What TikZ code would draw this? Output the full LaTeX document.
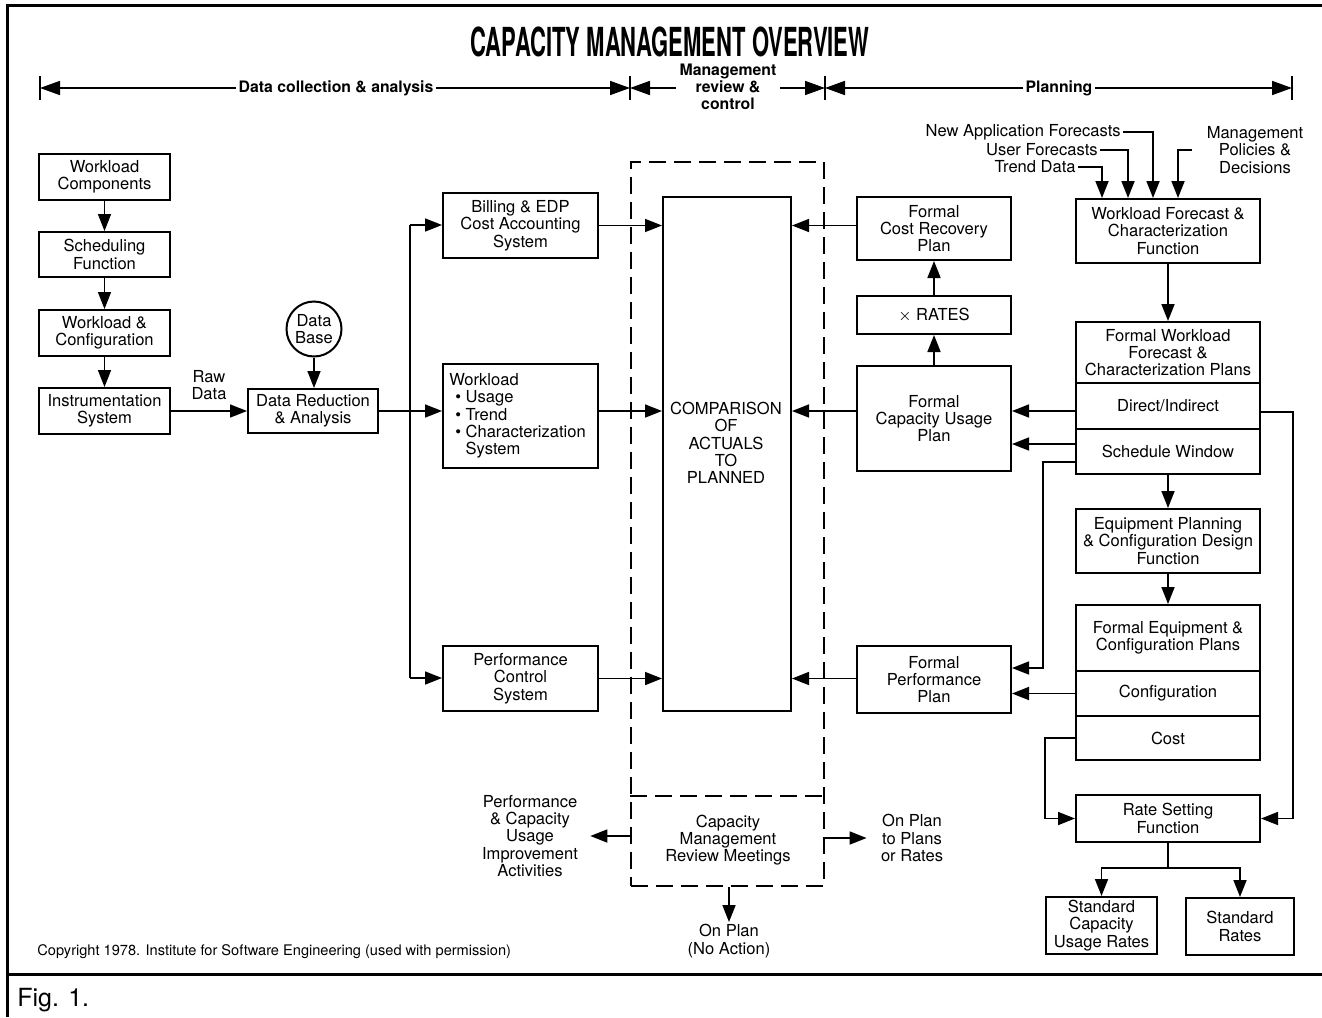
\documentclass[tikz,border=0pt]{standalone}
\usepackage{fontspec}
\usepackage{graphicx}
\setmainfont{TeX Gyre Heros}
\usetikzlibrary{arrows.meta}
\begin{document}
\begin{tikzpicture}[x=0.5pt,y=-0.5pt,
  txt/.style={font=\fontsize{8.27}{8.65}\selectfont, align=center, inner sep=1pt},
  bx/.style={txt, draw, line width=1pt, inner sep=0pt},
  sz/.style 2 args={minimum width=#1*0.5pt, minimum height=#2*0.5pt},
  arr/.style={line width=0.85pt, -{Triangle[length=8.5pt,width=6.5pt]}},
  ln/.style={line width=0.85pt},
  hdr/.style={font=\bfseries\fontsize{7.9}{8.6}\selectfont, align=center, inner sep=1pt},
  harr/.style={line width=0.85pt, -{Triangle[length=10pt,width=7pt]}},
  dsh/.style={line width=1pt, dash pattern=on 8.5pt off 4pt},
]
\useasboundingbox (0,0) rectangle (1322,1017);
% frame
\draw[line width=1.5pt] (7,1017) -- (7,5) -- (1322,5);
\draw[line width=1.5pt] (7,974) -- (1322,974);

% title
\node[inner sep=0] (title) at (670,42) {\scalebox{0.55}[1]{\fontsize{20}{20}\selectfont\bfseries CAPACITY MANAGEMENT OVERVIEW}};

% header
\coordinate (t1) at (40,88);
\coordinate (t2) at (630,88);
\coordinate (t3) at (825,88);
\coordinate (t4) at (1292,88);
\node[hdr] (dca) at (336,88) {Data collection \& analysis};
\node[hdr] (mrc) at (728,87) {Management\\review \&\\control};
\node[hdr] (pln) at (1059,88) {Planning};
\coordinate (mrcl) at (676,88);
\coordinate (mrcr) at (780,88);
\draw[harr] (dca.west) -- (t1);
\draw[harr] (dca.east) -- (t2);
\draw[harr] (mrcl) -- (t2);
\draw[harr] (mrcr) -- (t3);
\draw[harr] (pln.west) -- (t3);
\draw[harr] (pln.east) -- (t4);
\foreach \t in {t1,t2,t3,t4} \draw[ln] ([yshift=-6pt]\t) -- ([yshift=6pt]\t);

% left column
\node[bx, sz={131}{46}] (wc) at (104.5,177) {Workload\\Components};
\node[bx, sz={131}{45}] (sf) at (104.5,254.5) {Scheduling\\Function};
\node[bx, sz={131}{46}] (wcf) at (104.5,333) {Workload \&\\Configuration};
\node[bx, sz={131}{46}] (inst) at (104.5,411) {Instrumentation\\System};
\node[bx, sz={130}{44}] (dra) at (313,411) {Data Reduction\\\& Analysis};
\node[bx, circle, minimum size=27.5pt] (db) at (314,329) {Data\\Base};
\node[txt] (raw) at (209,385) {Raw\\Data};

\node[bx, sz={155}{65}] (bill) at (520.5,225.5) {Billing \& EDP\\Cost Accounting\\System};
\node[bx, sz={155}{104}, align=left] (wus) at (520.5,416) {\hspace*{-3pt}Workload\\\textbullet\ Usage\\\textbullet\ Trend\\\textbullet\ Characterization\\\phantom{\textbullet\ }System};
\node[bx, sz={155}{65}] (pcs) at (520.5,678.5) {Performance\\Control\\System};

% management review
\node[bx, sz={128}{514}] (cmp) at (727,454) {};
\node[txt] (cmpt) at (726,443) {COMPARISON\\OF\\ACTUALS\\TO\\PLANNED};
\node[draw, dsh, sz={193}{724}] (mgmt) at (727.5,523.5) {};
\draw[dsh] (mgmt.west |- 0,796) -- (mgmt.east |- 0,796);
\node[txt] (crm) at (728,840) {Capacity\\Management\\Review Meetings};
\node[txt] (pcu) at (530,836) {Performance\\\& Capacity\\Usage\\Improvement\\Activities};
\node[txt] (opr) at (912,838) {On Plan\\to Plans\\or Rates};
\node[txt] (onp) at (729,941) {On Plan\\(No Action)};

% middle right column
\node[bx, sz={154}{63}] (fcr) at (934,228.5) {Formal\\Cost Recovery\\Plan};
\node[bx, sz={154}{38}] (rates) at (934,315) {$\times$ RATES};
\node[bx, sz={154}{105}] (fcu) at (934,418.5) {Formal\\Capacity Usage\\Plan};
\node[bx, sz={154}{67}] (fpp) at (934,679.5) {Formal\\Performance\\Plan};

% right column
\node[bx, sz={184}{64}] (wfc) at (1168,231) {Workload Forecast \&\\Characterization\\Function};
\node[bx, sz={184}{61}] (fwp1) at (1168,352.5) {Formal Workload\\Forecast \&\\Characterization Plans};
\node[bx, sz={184}{46}] (fwp2) at (1168,406) {Direct/Indirect};
\node[bx, sz={184}{45}] (fwp3) at (1168,451.5) {Schedule Window};
\node[bx, sz={184}{64}] (epc) at (1168,541) {Equipment Planning\\\& Configuration Design\\Function};
\node[bx, sz={184}{66}] (fep1) at (1168,638) {Formal Equipment \&\\Configuration Plans};
\node[bx, sz={184}{45}] (fep2) at (1168,693.5) {Configuration};
\node[bx, sz={184}{44}] (fep3) at (1168,738) {Cost};
\node[bx, sz={184}{47}] (rsf) at (1168,818.5) {Rate Setting\\Function};
\node[bx, sz={111}{57}] (scur) at (1101.5,925.5) {Standard\\Capacity\\Usage Rates};
\node[bx, sz={108}{57}] (sr) at (1240,926.5) {Standard\\Rates};

% inputs
\node[txt, anchor=east] (naf) at (1123,132) {New Application Forecasts};
\node[txt, anchor=east] (uf) at (1100,150) {User Forecasts};
\node[txt, anchor=east] (td) at (1078,167) {Trend Data};
\node[txt] (mpd) at (1255,150) {Management\\Policies \&\\Decisions};
\draw[arr] (naf.east) -| ([xshift=-7.5pt]wfc.north);
\draw[arr] (uf.east) -| ([xshift=-20pt]wfc.north);
\draw[arr] (td.east) -| ([xshift=-33pt]wfc.north);
\draw[arr] ([xshift=-6pt]mpd.west) -| ([xshift=5pt]wfc.north);

% copyright, figure label
\node[font=\fontsize{7.3}{8}\selectfont, anchor=west, inner sep=0] (copy) at (37,952) {Copyright 1978. Institute for Software Engineering (used with permission)};
\node[font=\fontsize{12.5}{14}\selectfont, anchor=west, inner sep=0] (fig) at (17,1000) {Fig. 1.};

% left connectors
\draw[arr] (wc) -- (sf);
\draw[arr] (sf) -- (wcf);
\draw[arr] (wcf) -- (inst);
\draw[arr] (inst.east) -- (inst.east -| dra.west);
\draw[arr] (db.south) -- (db.south |- dra.north);
\coordinate (busT) at (410,225);
\coordinate (busB) at (410,678);
\draw[ln] (busT) -- (busB);
\draw[arr] (busT) -- (busT -| bill.west);
\draw[arr] (dra.east) -- (dra.east -| wus.west);
\draw[arr] (busB) -- (busB -| pcs.west);
\draw[arr] (bill.east) -- (bill.east -| cmp.west);
\draw[arr] (wus.east |- dra.east) -- (cmp.west |- dra.east);
\draw[arr] (pcs.east) -- (pcs.east -| cmp.west);

% right to comparison
\draw[arr] (fcr.west |- bill.east) -- (cmp.east |- bill.east);
\draw[arr] (fcu.west |- dra.east) -- (cmp.east |- dra.east);
\draw[arr] (fpp.west |- pcs.east) -- (cmp.east |- pcs.east);
\draw[arr] (rates) -- (fcr);
\draw[arr] (fcu) -- (rates);

% review outputs
\draw[arr] (mgmt.west |- pcu.east) -- ([xshift=5pt]pcu.east);
\draw[arr] (mgmt.east |- opr.west) -- ([xshift=-6pt]opr.west);
\draw[arr] (mgmt.south -| onp.north) -- (onp.north);

% planning flow
\draw[arr] (wfc) -- (fwp1);
\draw[arr] (fwp3) -- (epc);
\draw[arr] (epc) -- (fep1);
\draw[arr] (fwp2.west |- dra.east) -- (fcu.east |- dra.east);
\draw[arr] (fwp3.west |- 0,444) -- (fcu.east |- 0,444);
\coordinate (swb) at (1043,462);
\coordinate (swc) at (1043,668);
\draw[arr] (fwp3.west |- swb) -- (swb) -- (swc) -- (swc -| fpp.east);
\draw[arr] (fep2.west) -- (fep2.west -| fpp.east);
\coordinate (ddb) at (1293,412);
\draw[arr] (fwp2.east |- ddb) -- (ddb) |- (rsf.east);
\coordinate (cb) at (1045,738);
\draw[arr] (fep3.west) -- (cb) |- (rsf.west);
\coordinate (rsj) at (1168,868);
\draw[ln] (rsf.south) -- (rsj);
\draw[arr] (rsj) -| (scur.north);
\draw[arr] (rsj) -| (sr.north);
\end{tikzpicture}
\end{document}
